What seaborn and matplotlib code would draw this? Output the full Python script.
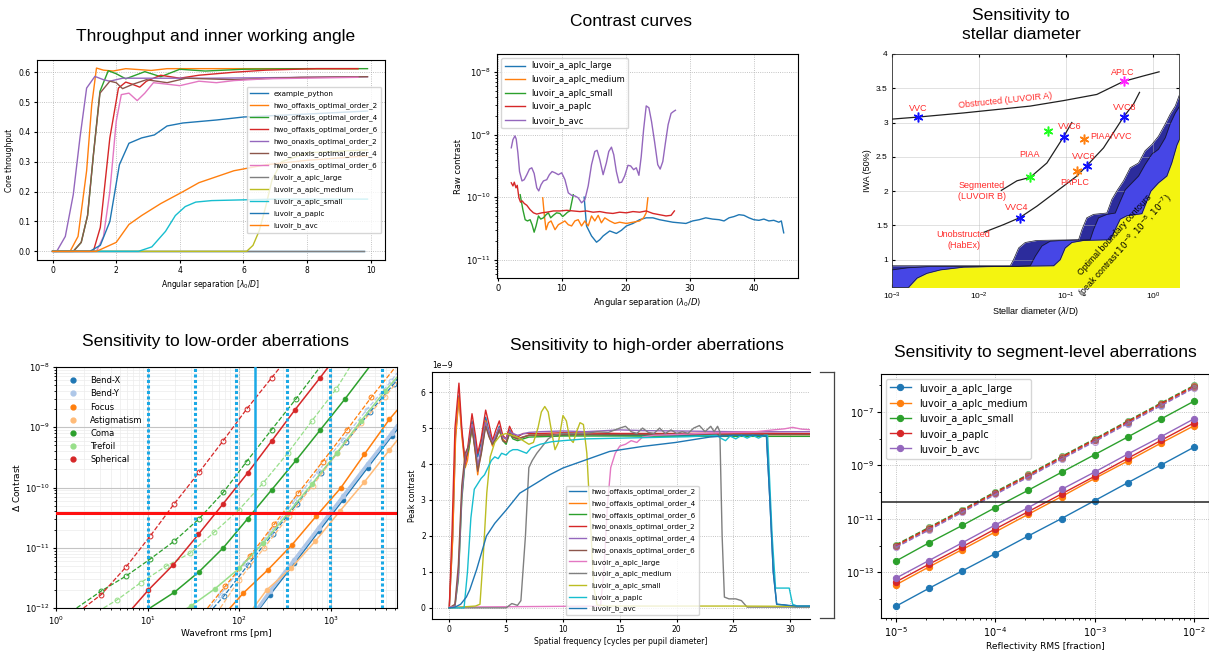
import numpy as np
import matplotlib
matplotlib.use("Agg")
import matplotlib.pyplot as plt
import matplotlib.ticker as mticker
from matplotlib.lines import Line2D
import seaborn as sns

plt.rcParams["font.family"] = ["DejaVu Sans"]
plt.rcParams["axes.linewidth"] = 0.8

tab10 = sns.color_palette("tab10")

# ---------------- throughput (top left) ----------------
tp_names = ["example_python", "hwo_offaxis_optimal_order_2", "hwo_offaxis_optimal_order_4",
            "hwo_offaxis_optimal_order_6", "hwo_onaxis_optimal_order_2", "hwo_onaxis_optimal_order_4",
            "hwo_onaxis_optimal_order_6", "luvoir_a_aplc_large", "luvoir_a_aplc_medium",
            "luvoir_a_aplc_small", "luvoir_a_paplc", "luvoir_b_avc"]
tp_example_x = [0, 9.8]
tp_example_y = [0, 0]
tp_off2_x = [0, 0.55, 0.8, 1.07, 1.23, 1.38, 1.6, 1.9, 2.3, 2.7, 3.1, 3.6, 4.5, 6, 8, 9.6]
tp_off2_y = [0, 0, 0.05, 0.27, 0.49, 0.614, 0.607, 0.604, 0.612, 0.609, 0.606, 0.612, 0.612, 0.612, 0.612, 0.612]
tp_off4_x = [0, 0.65, 0.9, 1.1, 1.28, 1.49, 1.75, 2.0, 2.3, 2.6, 2.9, 3.4, 4.0, 4.8, 6, 8, 9.9]
tp_off4_y = [0, 0, 0.03, 0.12, 0.32, 0.536, 0.605, 0.595, 0.578, 0.59, 0.602, 0.585, 0.61, 0.604, 0.61, 0.612, 0.612]
tp_off6_x = [0, 1.28, 1.5, 1.8, 2.07, 2.3, 2.5, 2.74, 2.95, 3.4, 4.0, 4.6, 5.7, 6.7, 8.3, 9.6]
tp_off6_y = [0, 0, 0.08, 0.38, 0.547, 0.567, 0.56, 0.55, 0.57, 0.59, 0.58, 0.59, 0.6, 0.607, 0.612, 0.612]
tp_on2_x = [0, 0.13, 0.4, 0.65, 0.86, 1.07, 1.33, 1.6, 1.8, 2.2, 3, 5, 7, 9.9]
tp_on2_y = [0, 0, 0.05, 0.19, 0.38, 0.547, 0.586, 0.575, 0.57, 0.58, 0.58, 0.58, 0.582, 0.585]
tp_on4_x = [0, 0.65, 0.9, 1.1, 1.28, 1.49, 1.8, 2.0, 2.2, 2.53, 2.95, 3.6, 4.2, 5.7, 7.8, 9.9]
tp_on4_y = [0, 0, 0.03, 0.12, 0.32, 0.53, 0.57, 0.565, 0.545, 0.56, 0.575, 0.565, 0.58, 0.575, 0.583, 0.585]
tp_on6_x = [0, 1.38, 1.6, 1.8, 2.0, 2.16, 2.4, 2.66, 2.9, 3.17, 3.6, 4.0, 4.6, 5.15, 5.7, 6.7, 9.6]
tp_on6_y = [0, 0, 0.05, 0.2, 0.435, 0.525, 0.53, 0.505, 0.53, 0.565, 0.56, 0.555, 0.57, 0.565, 0.572, 0.578, 0.583]
tp_large_x = [0, 9.8]
tp_large_y = [0, 0]
tp_medium_x = [0, 6.1, 6.3, 6.5, 6.7, 6.9, 7.2, 8, 9.9]
tp_medium_y = [0, 0, 0.02, 0.07, 0.15, 0.24, 0.3, 0.33, 0.34]
tp_small_x = [0, 2.7, 3.12, 3.55, 3.86, 4.17, 4.5, 5, 7, 9.9]
tp_small_y = [0, 0, 0.015, 0.067, 0.12, 0.15, 0.165, 0.17, 0.175, 0.175]
tp_paplc_x = [0, 1.17, 1.5, 1.8, 2.1, 2.4, 2.8, 3.2, 3.6, 4.1, 5.15, 6, 7, 8, 9.9]
tp_paplc_y = [0, 0, 0.02, 0.1, 0.29, 0.362, 0.38, 0.39, 0.42, 0.43, 0.44, 0.45, 0.455, 0.46, 0.47]
tp_avc_x = [0, 1.38, 2.0, 2.4, 2.8, 3.4, 4.1, 4.6, 5.7, 6.7, 8, 9.9]
tp_avc_y = [0, 0, 0.03, 0.09, 0.12, 0.16, 0.2, 0.23, 0.27, 0.29, 0.305, 0.32]

# ---------------- raw contrast (top middle) ----------------
cc_names = ["luvoir_a_aplc_large", "luvoir_a_aplc_medium", "luvoir_a_aplc_small", "luvoir_a_paplc", "luvoir_b_avc"]
cc_large_x = [13.51, 13.88, 14.66, 15.44, 15.95, 16.47, 17.5, 18.54, 19.32, 20.1, 21.13, 22.17, 23.2, 24.24,
              25.27, 26.3, 27.34, 28.37, 29.4, 30.44, 31.47, 32.5, 33.54, 34.58, 35.35, 36.13, 36.9, 37.68,
              38.46, 39.24, 40.0, 40.8, 41.57, 42.35, 43.12, 43.9, 44.3, 44.67]
cc_large_log = [-10.0, -10.46, -10.62, -10.72, -10.68, -10.62, -10.54, -10.58, -10.53, -10.46, -10.42, -10.36,
                -10.33, -10.33, -10.36, -10.38, -10.40, -10.41, -10.42, -10.38, -10.36, -10.33, -10.35, -10.36,
                -10.38, -10.33, -10.31, -10.28, -10.29, -10.33, -10.36, -10.37, -10.35, -10.38, -10.37, -10.40,
                -10.38, -10.57]
cc_medium_x = [7.04, 7.3, 7.56, 7.92, 8.34, 8.96, 9.48, 10.0, 10.5, 11.03, 11.55, 12.06, 12.58, 13.1, 13.62,
               14.14, 14.66, 15.17, 15.7, 16.2, 16.73, 17.5, 18.3, 19.05, 20.1, 21.13, 22.17, 22.79, 23.2, 23.46]
cc_medium_log = [-10.01, -10.30, -10.52, -10.41, -10.38, -10.52, -10.44, -10.41, -10.38, -10.44, -10.46, -10.38,
                 -10.36, -10.46, -10.38, -10.46, -10.30, -10.38, -10.29, -10.41, -10.33, -10.38, -10.42, -10.40,
                 -10.42, -10.40, -10.38, -10.33, -10.25, -10.01]
cc_small_x = [3.52, 3.94, 4.3, 4.66, 5.07, 5.38, 5.7, 6.0, 6.37, 6.73, 7.15, 7.56, 7.92, 8.28, 8.7, 9.2, 9.73,
              10.15, 10.5, 10.92, 11.29, 11.55, 11.81]
cc_small_log = [-9.96, -10.20, -10.36, -10.38, -10.36, -10.44, -10.56, -10.46, -10.30, -10.35, -10.33, -10.28,
                -10.25, -10.33, -10.29, -10.25, -10.26, -10.31, -10.28, -10.24, -10.22, -10.09, -9.96]
cc_paplc_x = [2.13, 2.39, 2.6, 2.86, 3.06, 3.32, 3.58, 3.84, 4.15, 4.56, 5.07, 5.59, 6.11, 6.89, 7.67, 8.7,
              9.73, 10.77, 11.81, 12.84, 13.88, 14.91, 15.95, 16.98, 18.0, 19.05, 20.1, 21.13, 22.17, 23.2,
              24.24, 25.27, 26.3, 27.08, 27.6]
cc_paplc_log = [-9.77, -9.82, -9.76, -9.85, -9.81, -10.01, -10.08, -10.06, -10.10, -10.13, -10.20, -10.25,
                -10.27, -10.25, -10.24, -10.22, -10.22, -10.21, -10.22, -10.23, -10.22, -10.24, -10.23, -10.25,
                -10.26, -10.24, -10.25, -10.23, -10.24, -10.22, -10.26, -10.28, -10.30, -10.29, -10.22]
cc_avc_x = [2.13, 2.39, 2.7, 2.9, 3.16, 3.42, 3.8, 4.15, 4.56, 4.97, 5.33, 5.7, 6.11, 6.42, 6.78, 7.15, 7.67,
            8.08, 8.5, 8.96, 9.48, 10.0, 10.51, 11.03, 11.55, 12.06, 12.58, 13.1, 13.62, 14.14, 14.66, 15.17,
            15.53, 15.95, 16.47, 16.98, 17.35, 17.77, 18.13, 18.54, 18.96, 19.37, 19.84, 20.35, 20.77, 21.23,
            21.65, 22.06, 22.42, 22.79, 23.2, 23.62, 24.03, 24.5, 25.0, 25.38, 25.79, 26.2, 26.62, 27.08,
            27.45, 27.76]
cc_avc_log = [-9.21, -9.08, -9.02, -9.07, -9.29, -9.59, -9.74, -9.72, -9.64, -9.55, -9.53, -9.62, -9.85, -9.90,
              -9.80, -9.74, -9.72, -9.64, -9.59, -9.61, -9.64, -9.61, -9.72, -9.93, -9.97, -9.98, -10.01,
              -10.09, -10.04, -9.82, -9.48, -9.27, -9.25, -9.40, -9.64, -9.45, -9.27, -9.20, -9.32, -9.59,
              -9.77, -9.76, -9.66, -9.49, -9.50, -9.56, -9.53, -9.65, -9.35, -8.92, -8.54, -8.57, -8.79,
              -9.11, -9.48, -9.55, -9.43, -9.13, -8.84, -8.66, -8.63, -8.61]

# ---------------- stellar diameter (top right) ----------------
sd_dark_x = [1e-3, 2.29e-2, 2.5e-2, 2.86e-2, 3.41e-2, 4.65e-2, 0.14, 0.153, 0.174, 0.208, 0.296, 0.338, 0.393,
             0.46, 0.549, 0.685, 0.816, 0.975, 1.16, 1.39, 1.58, 1.81, 2.03]
sd_dark_y = [0.91, 0.91, 1.0, 1.17, 1.25, 1.28, 1.29, 1.44, 1.61, 1.66, 1.68, 1.88, 2.02, 2.15, 2.34, 2.41,
             2.59, 2.68, 2.8, 2.98, 3.12, 3.24, 3.41]
sd_mid_x = [1e-3, 1.49e-3, 2.76e-3, 2.74e-2, 3.89e-2, 4.44e-2, 5.3e-2, 6.6e-2, 9.4e-2, 0.19, 0.208, 0.237,
            0.296, 0.369, 0.414, 0.481, 0.574, 0.685, 0.816, 0.975, 1.16, 1.39, 1.58, 1.81, 2.03]
sd_mid_y = [0.85, 0.88, 0.9, 0.9, 0.91, 1.05, 1.2, 1.27, 1.28, 1.29, 1.44, 1.61, 1.66, 1.68, 1.83, 2.02, 2.12,
            2.22, 2.39, 2.54, 2.61, 2.78, 2.98, 3.14, 3.24]
sd_yel_x = [1.56e-3, 1.94e-3, 2.52e-3, 3.6e-3, 6.67e-3, 1.61e-2, 7.22e-2, 8.6e-2, 9.8e-2, 0.117, 0.16,
            0.324, 0.369, 0.421, 0.502, 0.748, 0.838, 0.949, 1.16, 1.45, 1.65, 1.89, 2.03]
sd_yel_y = [0.6, 0.73, 0.8, 0.85, 0.89, 0.9, 0.91, 1.0, 1.17, 1.25, 1.28, 1.29, 1.44, 1.59, 1.64, 1.67,
            1.83, 2.0, 2.12, 2.22, 2.41, 2.67, 2.76]
sd_obstructed_x = [1e-3, 2.0e-3, 6.67e-3, 1.61e-2, 3.89e-2, 9.4e-2, 0.227, 0.46, 0.78, 1.18]
sd_obstructed_y = [3.05, 3.08, 3.14, 3.19, 3.24, 3.32, 3.41, 3.6, 3.68, 3.74]
sd_segmented_x = [1.81e-2, 2.74e-2, 3.89e-2, 6.05e-2, 9.4e-2, 0.117]
sd_segmented_y = [2.01, 2.15, 2.2, 2.41, 2.79, 3.0]
sd_unobstructed_x = [1.15e-2, 1.92e-2, 2.93e-2, 4.65e-2, 7.9e-2, 0.134, 0.174, 0.271, 0.46, 0.6, 0.703]
sd_unobstructed_y = [1.40, 1.51, 1.61, 1.78, 2.0, 2.22, 2.37, 2.63, 3.08, 3.27, 3.44]
sd_star_x = [2.0e-3, 0.46, 0.46, 6.15e-2, 9.4e-2, 0.163, 0.174, 0.134, 3.89e-2, 2.93e-2]
sd_star_y = [3.08, 3.6, 3.08, 2.88, 2.79, 2.76, 2.37, 2.30, 2.2, 1.61]
sd_star_c = ["#1010ff", "#ff20ff", "#1010ff", "#20ff20", "#1010ff", "#ff8010", "#1010ff", "#ff8010",
             "#20ff20", "#1010ff"]
sd_labels = ["APLC", "VVC", "VVC8", "VVC6", "PIAA", "VVC6", "PAPLC", "Segmented\n(LUVOIR B)", "VVC4",
             "Unobstructed\n(HabEx)"]
sd_label_x = [0.448, 2.0e-3, 0.481, 0.11, 0.0379, 0.16, 0.126, 0.0108, 0.0274, 6.67e-3]
sd_label_y = [3.73, 3.2, 3.22, 2.94, 2.54, 2.5, 2.12, 2.0, 1.76, 1.29]

# ---------------- low-order aberrations (bottom left) ----------------
lo_names = ["Bend-X", "Bend-Y", "Focus", "Astigmatism", "Coma", "Trefoil", "Spherical"]
lo_colors = ["#1f77b4", "#aec7e8", "#ff7f0e", "#ffbb78", "#2ca02c", "#98df8a", "#d62728"]
bendx_solid_x = [168, 216, 398, 733, 1364, 2512, 4588, 5250]
bendx_solid_y = [-12.0, -11.78, -11.26, -10.73, -10.20, -9.67, -9.15, -9.04]
bendx_dash_x = [52, 68, 125, 232, 425, 780, 1450, 2650, 4850, 5250]
bendx_dash_y = [-12.0, -11.80, -11.28, -10.77, -10.27, -9.76, -9.25, -8.75, -8.28, -8.2]
bendy_solid_x = [160, 216, 398, 733, 1364, 2512, 4588, 5250]
bendy_solid_y = [-12.0, -11.72, -11.20, -10.67, -10.14, -9.61, -9.10, -8.98]
bendy_dash_x = [48, 62, 115, 215, 395, 725, 1340, 2450, 4500, 5250]
bendy_dash_y = [-12.0, -11.78, -11.26, -10.75, -10.23, -9.73, -9.21, -8.71, -8.24, -8.1]
focus_solid_x = [79.1, 111, 204, 376, 686, 1274, 2311, 4327, 5250]
focus_solid_y = [-12.0, -11.75, -11.37, -10.95, -10.48, -10.01, -9.45, -8.87, -8.72]
focus_dash_x = [45, 70, 130, 240, 440, 810, 1500, 2760, 5050]
focus_dash_y = [-12.0, -11.64, -11.14, -10.61, -10.09, -9.57, -9.04, -8.50, -8.0]
astig_solid_x = [142, 199, 366, 675, 1254, 2311, 4327, 5250]
astig_solid_y = [-12.0, -11.70, -11.34, -10.89, -10.39, -9.91, -9.38, -9.22]
astig_dash_x = [62, 100, 185, 345, 630, 1170, 2150, 3900, 5250]
astig_dash_y = [-12.0, -11.53, -11.01, -10.48, -9.97, -9.43, -8.93, -8.49, -8.25]
coma_solid_x = [10.6, 19.5, 36.3, 66.9, 123, 225, 415, 759, 1422, 2618]
coma_solid_y = [-12.0, -11.74, -11.40, -11.0, -10.52, -10.04, -9.55, -9.05, -8.53, -8.0]
coma_dash_x = [1.68, 3.1, 5.8, 10.6, 19.5, 36.3, 66.9, 120, 225, 415, 759]
coma_dash_y = [-12.0, -11.72, -11.47, -11.19, -10.89, -10.52, -10.08, -9.57, -9.04, -8.53, -8.0]
tref_solid_x = [24, 29.4, 54.3, 100, 183, 337, 621, 1153, 2108, 3882, 5250]
tref_solid_y = [-12.05, -11.97, -11.68, -11.34, -10.92, -10.43, -9.94, -9.43, -8.90, -8.40, -8.17]
tref_dash_x = [3.3, 4.59, 8.39, 15.7, 29.0, 53.4, 99.1, 183, 337, 615, 1135, 1610]
tref_dash_y = [-12.0, -11.87, -11.58, -11.31, -11.09, -10.74, -10.37, -9.92, -9.43, -8.90, -8.37, -8.0]
sph_solid_x = [6.86, 10.2, 19.1, 35.7, 65.8, 123, 225, 405, 759, 935]
sph_solid_y = [-12.0, -11.70, -11.28, -10.78, -10.28, -9.76, -9.23, -8.71, -8.18, -8.0]
sph_dash_x = [2.0, 3.1, 5.8, 10.6, 19.5, 36.3, 66.9, 120, 225, 280]
sph_dash_y = [-12.0, -11.78, -11.32, -10.81, -10.27, -9.75, -9.22, -8.70, -8.18, -8.0]
wfe_dotted_pm = [10, 33, 92, 330, 980, 3600]
wfe_solid_pm = 148
contrast_goal = 3.8e-11

# ---------------- high-order aberrations (bottom middle), units of 1e-9 ----------------
ho_names = ["hwo_offaxis_optimal_order_2", "hwo_offaxis_optimal_order_4", "hwo_offaxis_optimal_order_6",
            "hwo_onaxis_optimal_order_2", "hwo_onaxis_optimal_order_4", "hwo_onaxis_optimal_order_6",
            "luvoir_a_aplc_large", "luvoir_a_aplc_medium", "luvoir_a_aplc_small", "luvoir_a_paplc",
            "luvoir_b_avc"]
ho_off2_x = [0, 0.3, 0.55, 0.85, 1.1, 1.4, 1.6, 2.0, 2.3, 2.5, 2.8, 3.2, 3.5, 3.8, 4.1, 4.4, 4.7, 5.0, 5.3,
             5.6, 6.0, 7, 8, 10, 12, 15, 20, 25, 27.9, 28.2, 28.5, 28.8, 29.5, 30.0, 30.5, 32]
ho_off2_y = [0, 2.0, 4.8, 5.9, 4.9, 4.0, 4.3, 5.2, 4.6, 4.2, 4.6, 5.3, 4.9, 4.6, 4.8, 5.05, 4.75, 4.7, 4.95,
             4.8, 4.7, 4.8, 4.8, 4.8, 4.82, 4.8, 4.8, 4.8, 4.8, 3.0, 1.0, 0.1, 0.08, 0.05, 0.03, 0.03]
ho_off4_x = [0, 0.3, 0.55, 0.85, 1.1, 1.4, 1.6, 2.0, 2.3, 2.5, 2.8, 3.2, 3.5, 3.8, 4.1, 4.4, 4.7, 5.0, 5.3,
             5.6, 6.0, 7, 10, 15, 20, 25, 32]
ho_off4_y = [0, 1.9, 4.7, 5.85, 4.8, 3.9, 4.1, 5.1, 4.3, 3.7, 4.4, 5.2, 4.8, 4.5, 4.75, 5.0, 4.7, 4.6, 4.9,
             4.75, 4.7, 4.8, 4.82, 4.83, 4.83, 4.82, 4.82]
ho_off6_x = [0, 0.5, 0.8, 1.1, 1.4, 1.7, 2.0, 2.3, 2.5, 2.8, 3.2, 3.5, 3.8, 4.1, 4.4, 4.7, 5.0, 5.3, 5.6,
             6.0, 7, 10, 15, 20, 25, 32]
ho_off6_y = [0, 0.05, 0.8, 3.0, 4.1, 4.4, 5.0, 4.4, 3.9, 4.3, 5.1, 4.8, 4.55, 4.7, 4.95, 4.65, 4.55, 4.85,
             4.7, 4.65, 4.75, 4.78, 4.78, 4.77, 4.77, 4.77]
ho_on2_x = [0, 0.25, 0.5, 0.85, 1.1, 1.4, 1.6, 2.0, 2.3, 2.5, 2.8, 3.2, 3.5, 3.8, 4.1, 4.4, 4.7, 5.0, 5.3,
            5.6, 6.0, 6.5, 7, 8, 10, 15, 20, 25, 32]
ho_on2_y = [0, 2.2, 5.0, 6.25, 5.0, 4.0, 4.4, 5.4, 4.8, 4.3, 4.7, 5.5, 5.1, 4.65, 4.95, 5.2, 4.8, 4.7, 5.05,
            4.85, 4.75, 4.85, 4.85, 4.85, 4.87, 4.85, 4.85, 4.86, 4.85]
ho_on4_x = [0, 0.5, 0.8, 1.1, 1.4, 1.7, 2.0, 2.3, 2.5, 2.8, 3.2, 3.5, 3.8, 4.1, 4.4, 4.7, 5.0, 5.3, 5.6, 6.0,
            7, 8, 10, 12, 15, 17, 20, 25, 32]
ho_on4_y = [0, 0.05, 0.9, 3.1, 4.2, 4.5, 5.1, 4.5, 3.95, 4.4, 5.15, 4.85, 4.6, 4.8, 5.0, 4.75, 4.7, 4.9,
            4.85, 4.8, 4.88, 4.9, 4.92, 4.9, 4.95, 4.93, 4.92, 4.9, 4.9]
ho_on6_x = [0, 0.5, 0.8, 1.1, 1.4, 1.7, 2.0, 2.3, 2.5, 2.8, 3.2, 3.5, 3.8, 4.1, 4.4, 4.7, 5.0, 5.3, 5.6, 6.0,
            7, 10, 15, 20, 25, 32]
ho_on6_y = [0, 0.1, 1.2, 3.4, 4.3, 4.5, 5.0, 4.3, 3.8, 4.25, 5.05, 4.75, 4.55, 4.7, 4.95, 4.65, 4.6, 4.85,
            4.75, 4.7, 4.8, 4.82, 4.82, 4.83, 4.82, 4.82]
ho_large_x = [0, 13.3, 13.6, 13.9, 14.2, 14.6, 15.0, 15.5, 16.0, 16.5, 17.0, 18, 20, 22, 25, 27, 28.5, 29.5,
              30.2, 31, 32]
ho_large_y = [0.02, 0.05, 1.0, 2.8, 3.9, 4.3, 4.5, 4.55, 4.65, 4.6, 4.75, 4.8, 4.82, 4.85, 4.88, 4.9, 4.95,
              4.98, 5.02, 4.97, 4.95]
ho_medium_x = [0, 5.0, 5.5, 6.0, 6.3, 6.7, 7.0, 7.3, 7.7, 8.2, 8.7, 9.2, 10, 11, 12, 13, 14, 15, 15.5, 16,
               16.5, 17, 17.5, 18, 18.5, 19, 19.5, 20, 20.5, 21, 21.5, 22, 22.5, 23, 23.3, 23.6, 23.8, 24.0,
               24.2, 24.6, 25.2, 25.7, 26.2, 27, 32]
ho_medium_y = [0.0, 0.0, 0.12, 0.07, 0.2, 2.0, 3.9, 4.1, 4.3, 4.5, 4.7, 4.8, 4.85, 4.85, 4.85, 4.9, 4.88, 5.0,
               5.05, 4.9, 4.85, 5.0, 4.88, 4.85, 5.0, 4.85, 4.95, 4.85, 4.9, 4.85, 5.0, 5.07, 4.9, 5.05, 4.9,
               5.05, 4.9, 2.0, 0.3, 0.25, 0.25, 0.2, 0.02, 0.02, 0.02]
ho_small_x = [0, 2.3, 2.7, 3.0, 3.3, 3.6, 4.0, 4.5, 5.0, 5.5, 6.0, 6.5, 7.0, 7.4, 7.8, 8.1, 8.4, 8.7, 9.0,
              9.3, 9.6, 10.0, 10.3, 10.6, 10.9, 11.2, 11.5, 11.8, 12.1, 12.4, 12.7, 13.0, 14, 20, 25, 32]
ho_small_y = [0, 0.05, 0.1, 1.5, 3.2, 4.2, 4.6, 4.8, 4.85, 4.8, 4.75, 4.65, 4.55, 4.6, 5.0, 5.45, 5.6, 5.45,
              4.9, 4.4, 4.6, 5.35, 5.2, 4.7, 4.6, 4.9, 5.15, 5.1, 4.3, 2.5, 0.6, 0.08, 0.05, 0.05, 0.05, 0.04]
ho_paplc_x = [0, 1.3, 1.6, 1.9, 2.2, 2.5, 2.8, 3.1, 3.4, 3.7, 4.0, 4.3, 4.6, 5.0, 5.3, 5.6, 6.0, 6.4, 6.8,
              7.2, 8, 9, 10, 12, 15, 18, 21, 23.5, 24.0, 24.3, 24.7, 25.2, 25.7, 26.2, 26.7, 27.2, 27.7, 28.0,
              28.4, 28.7, 29.0, 29.5, 29.9, 30.2, 30.6, 32]
ho_paplc_y = [0, 0, 1.0, 2.5, 3.3, 3.45, 3.6, 3.7, 3.9, 4.1, 4.2, 4.15, 4.3, 4.25, 4.35, 4.4, 4.4, 4.35, 4.3,
              4.45, 4.55, 4.62, 4.65, 4.7, 4.72, 4.74, 4.76, 4.8, 4.7, 4.65, 4.78, 4.7, 4.8, 4.72, 4.8, 4.72,
              4.8, 4.8, 2.0, 0.55, 0.55, 0.55, 0.55, 0.1, 0.05, 0.05]
ho_avc_x = [0, 0.5, 1.0, 1.5, 1.8, 2.4, 3.27, 4.0, 5.03, 6.2, 7.66, 8.83, 10, 12.05, 14.1, 17, 19.9, 22.9,
            25, 27, 27.9, 28.2, 28.5, 28.8, 29.5, 30.5, 32]
ho_avc_y = [0, 0.02, 0.1, 0.3, 0.5, 1.06, 2.0, 2.35, 2.73, 3.19, 3.47, 3.7, 3.89, 4.12, 4.35, 4.49, 4.6, 4.75,
            4.8, 4.8, 4.78, 3.0, 1.0, 0.1, 0.08, 0.05, 0.05]

# ---------------- segment-level (bottom right), log10 contrast ----------------
seg_names = ["luvoir_a_aplc_large", "luvoir_a_aplc_medium", "luvoir_a_aplc_small", "luvoir_a_paplc", "luvoir_b_avc"]
seg_rms = [1e-05, 2.15e-05, 4.64e-05, 1e-04, 2.15e-04, 4.64e-04, 1e-03, 2.15e-03, 4.64e-03, 1e-02]
seg_large = [-14.27, -13.60, -12.95, -12.30, -11.64, -10.99, -10.32, -9.65, -8.99, -8.32]
seg_medium = [-13.47, -12.80, -12.15, -11.49, -10.83, -10.17, -9.49, -8.84, -8.17, -7.52]
seg_small = [-12.58, -11.90, -11.25, -10.58, -9.93, -9.26, -8.60, -7.94, -7.27, -6.60]
seg_paplc = [-13.36, -12.70, -12.05, -11.38, -10.73, -10.07, -9.41, -8.74, -8.07, -7.41]
seg_avc = [-13.22, -12.56, -11.90, -11.23, -10.58, -9.90, -9.25, -8.58, -7.93, -7.26]
seg_large_dash = [-12.03, -11.38, -10.72, -10.05, -9.40, -8.73, -8.07, -7.40, -6.73, -6.07]
seg_medium_dash = [-12.02, -11.37, -10.71, -10.04, -9.39, -8.72, -8.06, -7.39, -6.72, -6.06]
seg_small_dash = [-11.97, -11.32, -10.66, -9.99, -9.34, -8.67, -8.01, -7.34, -6.67, -6.01]
seg_paplc_dash = [-12.0, -11.35, -10.69, -10.02, -9.37, -8.70, -8.04, -7.37, -6.70, -6.04]
seg_avc_dash = [-12.07, -11.42, -10.76, -10.09, -9.44, -8.77, -8.11, -7.44, -6.77, -6.11]
seg_threshold = 4.4e-11


def line(ax, x, y, color, **kw):
    sns.lineplot(x=x, y=y, ax=ax, color=color, estimator=None, sort=False, **kw)


fig = plt.figure(figsize=(12.09, 6.51), dpi=100)
W, H = 1209, 651


def box(l, r, t, b):
    return [l / W, 1 - b / H, (r - l) / W, (b - t) / H]


title_font = dict(fontsize=12.5, family="Liberation Sans", ha="center", va="center")
fig.text(216 / W, 1 - 37 / H, "Throughput and inner working angle", **title_font)
fig.text(631 / W, 1 - 22 / H, "Contrast curves", **title_font)
fig.text(1021 / W, 1 - 25 / H, "Sensitivity to\nstellar diameter", linespacing=1.3, **title_font)
fig.text(215 / W, 1 - 342 / H, "Sensitivity to low-order aberrations", **title_font)
fig.text(647 / W, 1 - 346 / H, "Sensitivity to high-order aberrations", **title_font)
fig.text(1045 / W, 1 - 352 / H, "Sensitivity to segment-level aberrations", **title_font)

#######################
## throughput
#######################
ax1 = fig.add_axes(box(37, 385, 60, 260))
tp_series = [(tp_example_x, tp_example_y), (tp_off2_x, tp_off2_y), (tp_off4_x, tp_off4_y),
             (tp_off6_x, tp_off6_y), (tp_on2_x, tp_on2_y), (tp_on4_x, tp_on4_y), (tp_on6_x, tp_on6_y),
             (tp_large_x, tp_large_y), (tp_medium_x, tp_medium_y), (tp_small_x, tp_small_y),
             (tp_paplc_x, tp_paplc_y), (tp_avc_x, tp_avc_y)]
for i, (name, (xs, ys)) in enumerate(zip(tp_names, tp_series)):
    line(ax1, xs, ys, tab10[i % 10], lw=1.0, label=name)
ax1.set_xlim(-0.49, 10.45)
ax1.set_ylim(-0.029, 0.641)
ax1.grid(ls=":", lw=0.6, color="#b0b0b0")
ax1.tick_params(labelsize=5.5, length=2.5, pad=2)
ax1.set_xlabel(r"Angular separation [$\lambda_0/D$]", fontsize=5.5, labelpad=2)
ax1.set_ylabel("Core throughput", fontsize=5.5, labelpad=3)
ax1.legend(loc="center right", fontsize=5.2, labelspacing=0.72, handlelength=2.4, borderpad=0.5)

#######################
## contrast curves
#######################
ax2 = fig.add_axes(box(497, 798, 54, 278))
cc_series = [(cc_large_x, cc_large_log), (cc_medium_x, cc_medium_log), (cc_small_x, cc_small_log),
             (cc_paplc_x, cc_paplc_log), (cc_avc_x, cc_avc_log)]
ax2.set_yscale("log")
for i, (name, (xs, ys)) in enumerate(zip(cc_names, cc_series)):
    line(ax2, xs, np.power(10.0, ys), tab10[i], lw=1.0, label=name)
ax2.set_xlim(-0.1, 46.9)
ax2.set_ylim(5.1e-12, 1.95e-8)
ax2.grid(ls=":", lw=0.6, color="#b0b0b0")
ax2.tick_params(labelsize=6, length=2.5, pad=2)
ax2.tick_params(which="minor", length=1.5)
ax2.set_xlabel(r"Angular separation ($\lambda_0/D$)", fontsize=6, labelpad=2)
ax2.set_ylabel("Raw contrast", fontsize=6, labelpad=2)
ax2.legend(loc="upper left", fontsize=6, labelspacing=0.55, handlelength=2.4)

#######################
## stellar diameter
#######################
with plt.rc_context({"font.family": ["Liberation Sans", "DejaVu Sans"]}):
    ax3 = fig.add_axes(box(892, 1179, 54, 287))
    ax3.set_xscale("log")
    # boundary contours, peak contrast 1e-7 (largest), 1e-8, 1e-9 (yellow, on top)
    ax3.fill_between(sd_dark_x, 0.55, sd_dark_y, color="#2c2c9c", lw=0, zorder=1)
    ax3.fill_between(sd_mid_x, 0.55, sd_mid_y, color="#4646e6", lw=0, zorder=2)
    ax3.fill_between(sd_yel_x, 0.55, sd_yel_y, color="#f4f410", lw=0, zorder=3)
    for xs, ys in [(sd_dark_x, sd_dark_y), (sd_mid_x, sd_mid_y), (sd_yel_x, sd_yel_y)]:
        ax3.plot(xs, ys, color="#15152a", lw=0.5, zorder=3.5)
    for xs, ys in [(sd_obstructed_x, sd_obstructed_y), (sd_segmented_x, sd_segmented_y),
                   (sd_unobstructed_x, sd_unobstructed_y)]:
        line(ax3, xs, ys, "#202020", lw=0.9, legend=False, zorder=4)
    for xs, ys, c in zip(sd_star_x, sd_star_y, sd_star_c):
        ax3.plot(xs, ys, ls="", marker=(6, 2, 0), ms=7, mew=1.1, mec=c, zorder=5)
    red = "#ff2a2a"
    for t, xs, ys in zip(sd_labels, sd_label_x, sd_label_y):
        ax3.text(xs, ys, t, color=red, fontsize=6.5, ha="center", va="center", linespacing=1.3, zorder=6)
    ax3.text(0.19, 2.8, "PIAA/VVC", color=red, fontsize=6.5, ha="left", va="center", zorder=6)
    ax3.text(0.0201, 3.32, "Obstructed (LUVOIR A)", color=red, fontsize=6.5, ha="center", va="center",
             rotation=6, zorder=6)
    ax3.text(0.43, 1.27, "Optimal boundary contours\n(peak contrast $10^{-9}$, $10^{-8}$, $10^{-7}$)",
             color="black", fontsize=6.3, ha="center", va="center", rotation=48, linespacing=1.3, zorder=6)
    ax3.set_xlim(1e-3, 2.0)
    ax3.set_ylim(0.6, 4.0)
    ax3.set_yticks([1, 1.5, 2, 2.5, 3, 3.5, 4])
    ax3.yaxis.set_major_formatter(mticker.FormatStrFormatter("%g"))
    ax3.xaxis.set_minor_locator(mticker.NullLocator())
    ax3.grid(color="#b8b8b8", lw=0.5, alpha=0.6)
    ax3.tick_params(labelsize=6, direction="in", length=2, pad=3, top=True, right=True)
    for s in ax3.spines.values():
        s.set_color("#333333")
        s.set_linewidth(0.6)
    ax3.set_xlabel(r"Stellar diameter ($\lambda$/D)", fontsize=6.5, labelpad=2)
    ax3.set_ylabel("IWA (50%)", fontsize=6.5, labelpad=3)

#######################
## low-order aberrations
#######################
ax4 = fig.add_axes(box(56, 397, 367, 608))
ax4.set_xscale("log")
ax4.set_yscale("log")
lo_solid = [(bendx_solid_x, bendx_solid_y), (bendy_solid_x, bendy_solid_y), (focus_solid_x, focus_solid_y),
            (astig_solid_x, astig_solid_y), (coma_solid_x, coma_solid_y), (tref_solid_x, tref_solid_y),
            (sph_solid_x, sph_solid_y)]
lo_dash = [(bendx_dash_x, bendx_dash_y), (bendy_dash_x, bendy_dash_y), (focus_dash_x, focus_dash_y),
           (astig_dash_x, astig_dash_y), (coma_dash_x, coma_dash_y), (tref_dash_x, tref_dash_y),
           (sph_dash_x, sph_dash_y)]
for c, (xs, ys), (xd, yd) in zip(lo_colors, lo_solid, lo_dash):
    marks = [i for i, (a, b) in enumerate(zip(xd, yd)) if -11.99 < b < -8.01 and a < 5200]
    line(ax4, xd, np.power(10.0, yd), c, lw=0.9, linestyle="--", marker="o", ms=3.5,
         mfc="none", mec=c, mew=0.7, markevery=marks, legend=False)
for c, (xs, ys) in zip(lo_colors, lo_solid):
    marks = [i for i, (a, b) in enumerate(zip(xs, ys)) if -11.99 < b < -8.01 and a < 5200]
    lw = 2.4 if c == "#aec7e8" else 1.1
    line(ax4, xs, np.power(10.0, ys), c, lw=lw, marker="o", ms=3.5, mec=c, mew=0.5,
         markevery=marks, legend=False)
for v in wfe_dotted_pm:
    ax4.axvline(v, color="#1aa9e6", lw=2.2, ls=(0, (1, 0.8)), zorder=5)
ax4.axvline(wfe_solid_pm, color="#1aa9e6", lw=1.8, zorder=5)
ax4.axhline(contrast_goal, color="#ff1010", lw=2.2, zorder=6)
ax4.set_xlim(1, 5250)
ax4.set_ylim(1e-12, 1e-8)
ax4.grid(which="major", color="#c4c4c4", lw=0.8)
ax4.grid(which="minor", color="#ececec", lw=0.5)
ax4.tick_params(labelsize=6, length=2.5, pad=2)
ax4.tick_params(which="minor", length=1.5)
ax4.set_xlabel("Wavefront rms [pm]", fontsize=6.5, labelpad=2)
ax4.set_ylabel(r"$\Delta$ Contrast", fontsize=6.5, labelpad=2)
lo_handles = [Line2D([], [], ls="", marker="o", ms=3.5, color=c) for c in lo_colors]
ax4.legend(lo_handles, lo_names, loc="upper left", fontsize=6, frameon=False, labelspacing=0.5,
           handletextpad=1.0, borderpad=0.6)

#######################
## high-order aberrations
#######################
ax5 = fig.add_axes(box(432, 810, 372, 619))
ho_series = [(ho_off2_x, ho_off2_y), (ho_off4_x, ho_off4_y), (ho_off6_x, ho_off6_y), (ho_on2_x, ho_on2_y),
             (ho_on4_x, ho_on4_y), (ho_on6_x, ho_on6_y), (ho_large_x, ho_large_y),
             (ho_medium_x, ho_medium_y), (ho_small_x, ho_small_y), (ho_paplc_x, ho_paplc_y),
             (ho_avc_x, ho_avc_y)]
for i, (name, (xs, ys)) in enumerate(zip(ho_names, ho_series)):
    line(ax5, xs, np.array(ys) * 1e-9, tab10[i % 10], lw=1.0, label=name)
ax5.set_xlim(-1.52, 31.73)
ax5.set_ylim(-0.31e-9, 6.56e-9)
ax5.spines["right"].set_visible(False)
ax5.grid(ls=":", lw=0.6, color="#b0b0b0")
ax5.tick_params(labelsize=5.5, length=2.5, pad=2)
ax5.yaxis.get_offset_text().set_fontsize(5.5)
ax5.set_xlabel("Spatial frequency [cycles per pupil diameter]", fontsize=5.5, labelpad=2)
ax5.set_ylabel("Peak contrast", fontsize=5.5, labelpad=3)
ax5.legend(loc="lower center", bbox_to_anchor=(0.53, 0.0), fontsize=5.2, labelspacing=0.68,
           handlelength=2.4)

#######################
## segment-level aberrations
#######################
ax6 = fig.add_axes(box(881, 1209, 374, 618))
ax6.set_xscale("log")
ax6.set_yscale("log")
seg_solid = [seg_large, seg_medium, seg_small, seg_paplc, seg_avc]
seg_dash = [seg_large_dash, seg_medium_dash, seg_small_dash, seg_paplc_dash, seg_avc_dash]
for i, ys in enumerate(seg_dash):
    c = tab10[i]
    line(ax6, seg_rms, np.power(10.0, ys), c, lw=1.0, linestyle="--", marker="o", ms=4.5,
         mfc=(*c, 0.35), mec=(*c, 0.6), mew=0.6, legend=False)
for i, (name, ys) in enumerate(zip(seg_names, seg_solid)):
    c = tab10[i]
    line(ax6, seg_rms, np.power(10.0, ys), c, lw=1.0, marker="o", ms=4.5, mec=c, label=name)
ax6.axhline(seg_threshold, color="#222222", lw=1.1)
ax6.set_xlim(10 ** -5.15, 10 ** -1.85)
ax6.set_ylim(10 ** -14.71, 10 ** -5.585)
ax6.set_yticks([1e-13, 1e-11, 1e-9, 1e-7])
ax6.yaxis.set_minor_locator(mticker.LogLocator(base=10, subs=(1.0,), numticks=20))
ax6.yaxis.set_minor_formatter(mticker.NullFormatter())
ax6.grid(ls=":", lw=0.6, color="#b0b0b0")
ax6.tick_params(labelsize=7, length=3, pad=2)
ax6.tick_params(which="minor", length=1.5)
ax6.set_xlabel("Reflectivity RMS [fraction]", fontsize=6.5, labelpad=2)
ax6.legend(loc="upper left", fontsize=7, labelspacing=0.45, handlelength=2.2)

# fragment of the neighbouring frame
for xs, ys in [([820, 834], [372, 372]), ([834, 834], [372, 618]), ([820, 834], [618, 618])]:
    fig.add_artist(Line2D([v / W for v in xs], [1 - v / H for v in ys], color="#444444", lw=0.9))

fig.savefig("out.png", dpi=100)
